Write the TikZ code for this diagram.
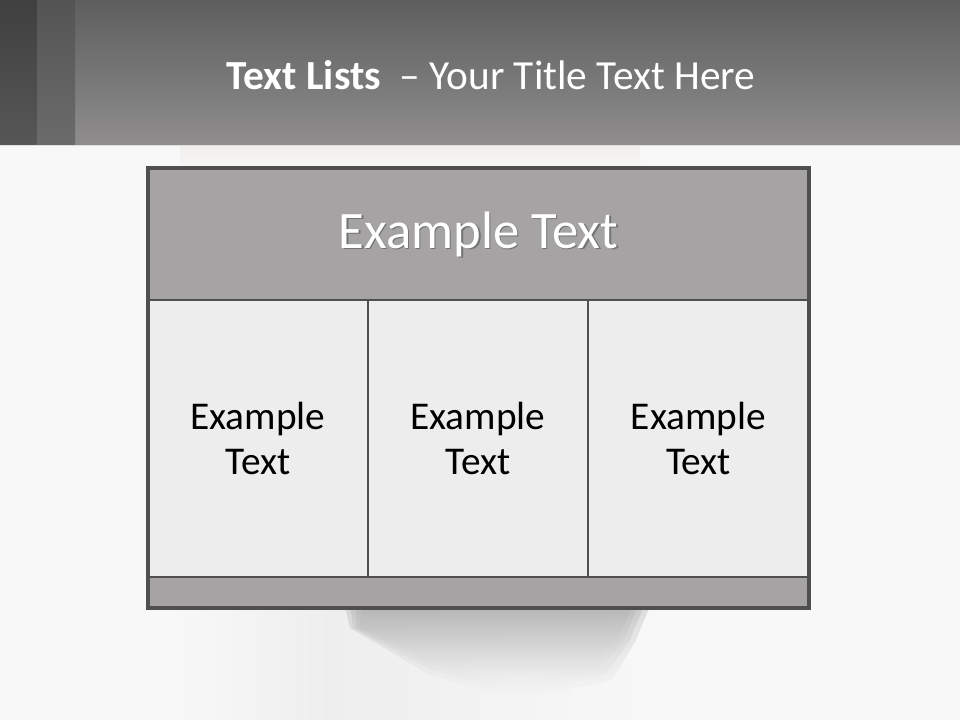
\documentclass[tikz,border=0pt]{standalone}
\usepackage{fontspec}
\setmainfont{Carlito}
\usetikzlibrary{positioning}
\definecolor{bgc}{HTML}{F8F8F8}
\definecolor{bordc}{HTML}{4F4F4F}
\definecolor{headc}{HTML}{A5A3A4}
\definecolor{cellc}{HTML}{EDEDED}
\definecolor{bartop}{HTML}{5E5E5E}
\definecolor{barbot}{HTML}{8F8D8E}
\definecolor{beige}{HTML}{F1EFEB}
\tikzset{
  px/.style={x=0.75pt,y=-0.75pt},
  cellbox/.style={draw=bordc,line width=1.6pt,inner sep=0pt,outer sep=0pt,
    align=center,font=\fontsize{29.5}{34}\selectfont},
  headbox/.style={cellbox,fill=headc},
  bodybox/.style={cellbox,fill=cellc,minimum width=165pt,minimum height=207.75pt},
  shadowtxt/.style={text=black!55,font=\fontsize{39.5}{48}\selectfont},
  headtxt/.style={text=white,font=\fontsize{39.5}{48}\selectfont},
  brush/.style={top color=black!32!bgc, bottom color=bgc, opacity=0.35}
}
\begin{document}
\begin{tikzpicture}[px]
\useasboundingbox (0,0) rectangle (960,720);
% background
\fill[bgc] (0,0) rectangle (960,720);
% faint brush image
\shade[top color=beige, bottom color=bgc] (180,146) rectangle (640,172);
\shade[left color=bgc, right color=black!4!bgc] (175,600) rectangle (330,720);
\shade[left color=black!4!bgc, right color=bgc] (330,600) rectangle (650,720);
\foreach \s in {0,6,12,18}{
  \shade[brush] (345+\s,606) -- (650-\s,606) -- (636-\s,640) -- (612-\s,680-\s)
    -- (520,700-\s) -- (430,675-\s) -- (350+\s*0.5,628) -- cycle;
}
% title bar
\shade[top color=bartop, bottom color=barbot] (0,0) rectangle (960,145);
\shade[top color=black!75, bottom color=black!66] (0,0) rectangle (37,145);
\shade[top color=black!67, bottom color=black!58] (37,0) rectangle (75,145);
\draw[black!13, line width=0.75pt] (0,145.5) -- (960,145.5);
\node[text=white, font=\fontsize{31}{37}\selectfont] (title) at (491,75)
  {\textbf{Text Lists}\ \ – Your Title Text Here};
% table
\node[headbox, minimum width=495.75pt, minimum height=99pt] (head) at (478.5,234) {};
\node[shadowtxt] (headshadow) at (480,235.5) {Example Text};
\node[headtxt] (headtext) at (478.5,234) {Example Text};
\node[bodybox] (c1) at (258,438.5) {Example\\Text};
\node[bodybox] (c2) at (478,438.5) {Example\\Text};
\node[bodybox, minimum width=165.75pt] (c3) at (698.5,438.5) {Example\\Text};
\node[headbox, minimum width=495.75pt, minimum height=23.25pt] (foot) at (478.5,592.5) {};
\draw[bordc, line width=2.4pt] (head.north west) rectangle (foot.south east);
\end{tikzpicture}
\end{document}
